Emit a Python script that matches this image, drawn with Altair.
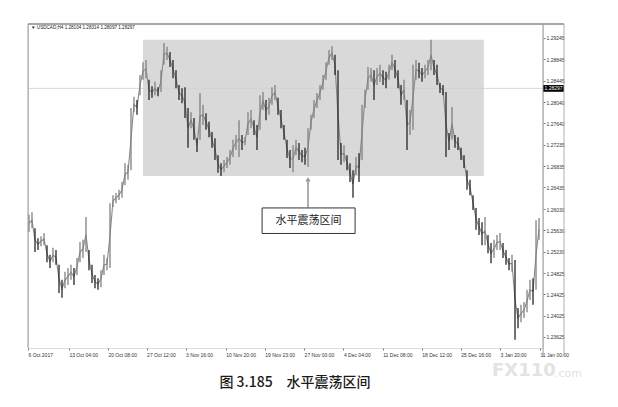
import altair as alt
import pandas as pd

# USDCAD H4 bars (high / low of each bar, left to right)
highs = [
    1.2592, 1.2597, 1.2567, 1.2548, 1.2552, 1.2558, 1.2535, 1.2517, 1.2530, 1.2526,
    1.2498, 1.2470, 1.2485, 1.2492, 1.2498, 1.2492, 1.2511, 1.2541, 1.2545, 1.2588,
    1.2526, 1.2498, 1.2479, 1.2473, 1.2488, 1.2517, 1.2511, 1.2614, 1.2629, 1.2633,
    1.2639, 1.2654, 1.2689, 1.2686, 1.2793, 1.2814, 1.2808, 1.2855, 1.2879, 1.2883,
    1.2846, 1.2834, 1.2842, 1.2832, 1.2864, 1.2915, 1.2908, 1.2898, 1.2883, 1.2864,
    1.2836, 1.2830, 1.2832, 1.2793, 1.2785, 1.2774, 1.2736, 1.2821, 1.2799, 1.2783,
    1.2767, 1.2748, 1.2736, 1.2704, 1.2689, 1.2695, 1.2701, 1.2714, 1.2733, 1.2742,
    1.2770, 1.2742, 1.2738, 1.2785, 1.2789, 1.2770, 1.2761, 1.2817, 1.2823, 1.2808,
    1.2812, 1.2832, 1.2836, 1.2812, 1.2789, 1.2761, 1.2733, 1.2714, 1.2723, 1.2733,
    1.2727, 1.2714, 1.2718, 1.2755, 1.2780, 1.2808, 1.2821, 1.2836, 1.2855, 1.2879,
    1.2902, 1.2909, 1.2893, 1.2864, 1.2727, 1.2723, 1.2704, 1.2689, 1.2676, 1.2701,
    1.2708, 1.2799, 1.2827, 1.2870, 1.2868, 1.2864, 1.2868, 1.2874, 1.2864, 1.2861,
    1.2874, 1.2893, 1.2883, 1.2864, 1.2836, 1.2846, 1.2808, 1.2789, 1.2874, 1.2883,
    1.2878, 1.2868, 1.2874, 1.2883, 1.2921, 1.2883, 1.2874, 1.2840, 1.2836, 1.2823,
    1.2746, 1.2795, 1.2742, 1.2738, 1.2718, 1.2704, 1.2676, 1.2658, 1.2629, 1.2605,
    1.2586, 1.2578, 1.2588, 1.2554, 1.2539, 1.2545, 1.2554, 1.2558, 1.2539, 1.2526,
    1.2511, 1.2517, 1.2507, 1.2417, 1.2423, 1.2428, 1.2451, 1.2470, 1.2473, 1.2582,
    1.2586,
]
lows = [
    1.2560, 1.2567, 1.2522, 1.2526, 1.2533, 1.2535, 1.2503, 1.2492, 1.2503, 1.2498,
    1.2445, 1.2436, 1.2454, 1.2460, 1.2470, 1.2460, 1.2479, 1.2503, 1.2511, 1.2522,
    1.2488, 1.2464, 1.2454, 1.2451, 1.2456, 1.2479, 1.2488, 1.2492, 1.2607, 1.2614,
    1.2620, 1.2624, 1.2648, 1.2658, 1.2676, 1.2785, 1.2780, 1.2817, 1.2846, 1.2849,
    1.2808, 1.2812, 1.2817, 1.2815, 1.2823, 1.2874, 1.2883, 1.2870, 1.2849, 1.2830,
    1.2808, 1.2802, 1.2774, 1.2718, 1.2755, 1.2733, 1.2710, 1.2733, 1.2761, 1.2752,
    1.2738, 1.2718, 1.2695, 1.2671, 1.2665, 1.2672, 1.2680, 1.2686, 1.2701, 1.2714,
    1.2701, 1.2714, 1.2723, 1.2742, 1.2755, 1.2742, 1.2714, 1.2752, 1.2789, 1.2770,
    1.2780, 1.2799, 1.2808, 1.2780, 1.2755, 1.2733, 1.2699, 1.2680, 1.2672, 1.2704,
    1.2695, 1.2691, 1.2686, 1.2682, 1.2752, 1.2774, 1.2793, 1.2808, 1.2827, 1.2846,
    1.2874, 1.2883, 1.2855, 1.2695, 1.2686, 1.2691, 1.2676, 1.2654, 1.2624, 1.2667,
    1.2654, 1.2695, 1.2793, 1.2827, 1.2842, 1.2808, 1.2836, 1.2842, 1.2836, 1.2830,
    1.2846, 1.2864, 1.2849, 1.2830, 1.2799, 1.2808, 1.2714, 1.2742, 1.2752, 1.2846,
    1.2849, 1.2842, 1.2849, 1.2855, 1.2864, 1.2855, 1.2836, 1.2821, 1.2817, 1.2701,
    1.2714, 1.2733, 1.2718, 1.2714, 1.2695, 1.2680, 1.2639, 1.2629, 1.2601, 1.2564,
    1.2554, 1.2535, 1.2535, 1.2520, 1.2501, 1.2511, 1.2526, 1.2526, 1.2511, 1.2498,
    1.2488, 1.2485, 1.2357, 1.2379, 1.2390, 1.2398, 1.2409, 1.2432, 1.2423, 1.2451,
    1.2545,
]

# time axis (bar index of each label) and price axis
time_ticks = [-0.33, 13.3, 26.3, 39.2, 52.2, 65.6, 78.6, 91.7, 104.8, 117.9, 130.9, 143.9, 157, 170.3]
time_labels = ['6 Oct 2017', '13 Oct 04:00', '20 Oct 08:00', '27 Oct 12:00', '3 Nov 16:00',
               '10 Nov 20:00', '19 Nov 23:00', '27 Nov 00:00', '4 Dec 04:00', '11 Dec 08:00',
               '18 Dec 12:00', '25 Dec 16:00', '3 Jan 20:00', '11 Jan 00:00']
price_ticks = [1.29245, 1.28845, 1.28445, 1.28040, 1.27640, 1.27235, 1.26835, 1.26435,
               1.26030, 1.25630, 1.25230, 1.24825, 1.24425, 1.24025, 1.23625]
last_price = 1.28297
header = '▼ USDCAD,H4  1.28104 1.28314 1.28097 1.28297'

# range box + callout
zone = {'start': 38, 'end': 151.6, 'top': 1.2921, 'bottom': 1.2665}
callout = {'bar': 93, 'tip': 1.2659, 'tail': 1.2606,
           'left': 77.7, 'right': 108.7, 'top': 1.2605, 'bottom': 1.2557}
callout_text = '水平震荡区间'
caption = '图 3.185\u3000水平震荡区间'

W, H = 515, 324
FONT = 'Liberation Sans'
CJK = 'Noto Sans CJK SC'

bars = pd.DataFrame({'bar': range(len(highs)), 'high': highs, 'low': lows})
bars['mid'] = (bars['high'] + bars['low']) / 2
bars['down'] = bars['mid'] < bars['mid'].shift(1)

xs = alt.Scale(domain=[-0.33, 171.33], nice=False, zero=False)
ys = alt.Scale(domain=[1.23417, 1.29508], nice=False, zero=False)

lookup = str(time_labels) + '[indexof(' + str(time_ticks) + ', datum.value)]'
x_axis = alt.Axis(values=time_ticks, labelExpr=lookup, labelAlign='left', labelFontSize=5,
                  labelColor='#333', labelFont=FONT, tickSize=2, tickColor='#777',
                  domain=False, grid=False, labelPadding=2, labelOverlap=False, title=None)
y_axis = alt.Axis(orient='right', values=price_ticks, format='.5f', labelFontSize=5,
                  labelColor='#333', labelFont=FONT, tickSize=2, tickColor='#777',
                  domain=False, grid=False, labelPadding=1, labelOverlap=False, title=None)


def X(field):
    return alt.X(field, type='quantitative', scale=xs, axis=x_axis)


def Y(field):
    return alt.Y(field, type='quantitative', scale=ys, axis=y_axis)


one = pd.DataFrame({'k': [0]})

shade = alt.Chart(pd.DataFrame([zone])).mark_rect(color='#d9d9d9').encode(
    x=X('start'), x2='end', y=Y('top'), y2='bottom'
)

price_line = alt.Chart(pd.DataFrame({'p': [last_price]})).mark_rule(
    color='#cfcfcf', strokeWidth=0.8
).encode(y=Y('p'), x=alt.value(0), x2=alt.value(W))

# thin path through the bars so the dense H4 series reads as one jagged band
path = alt.Chart(bars).mark_line(color='#888888', strokeWidth=1.1).encode(
    x=X('bar'), y=Y('mid')
)

candles = alt.Chart(bars).mark_rule(strokeWidth=1.3).encode(
    x=X('bar'),
    y=Y('high'),
    y2='low',
    color=alt.condition('datum.down', alt.value('#262626'), alt.value('#808080')),
)

cdf = pd.DataFrame([callout])
shaft = alt.Chart(cdf).mark_rule(color='#9a9a9a', strokeWidth=1.6).encode(
    x=X('bar'), y=Y('tip'), y2='tail'
)
head = alt.Chart(cdf).mark_point(
    shape='triangle-up', filled=True, color='#9a9a9a', size=28, opacity=1
).encode(x=X('bar'), y=Y('tip'))
box = alt.Chart(cdf).mark_rect(fill='white', stroke='#333', strokeWidth=1).encode(
    x=X('left'), x2='right', y=Y('top'), y2='bottom'
)
box_text = alt.Chart(pd.DataFrame({'t': [callout_text], 'bar': [93.2], 'p': [1.2581]})).mark_text(
    font=CJK, fontSize=11, color='#222'
).encode(x=X('bar'), y=Y('p'), text='t:N')

# last-price tag on the price axis
tag = alt.Chart(pd.DataFrame({'p': [last_price]})).mark_point(
    shape='M-1,-0.32H1V0.32H-1Z', filled=True, color='black', size=441, opacity=1
).encode(y=Y('p'), x=alt.value(W + 10.5))
tag_text = alt.Chart(pd.DataFrame({'p': [last_price]})).mark_text(
    font=FONT, fontSize=5, color='white', align='center', baseline='middle'
).encode(y=Y('p'), x=alt.value(W + 10.5), text=alt.Text('p:Q', format='.5f'))

# window frame
frame_top = alt.Chart(one).mark_rule(color='#a8a8a8', strokeWidth=2).encode(
    x=alt.value(0), x2=alt.value(W + 21), y=alt.value(0)
)
frame_left = alt.Chart(one).mark_rule(color='#9a9a9a', strokeWidth=1).encode(
    x=alt.value(0), y=alt.value(0), y2=alt.value(H)
)
frame_axis = alt.Chart(one).mark_rule(color='#9a9a9a', strokeWidth=1).encode(
    x=alt.value(W), y=alt.value(0), y2=alt.value(H + 9)
)
frame_right = alt.Chart(one).mark_rule(color='#b0b0b0', strokeWidth=1).encode(
    x=alt.value(W + 21), y=alt.value(0), y2=alt.value(H + 9)
)

head_text = alt.Chart(pd.DataFrame({'t': [header]})).mark_text(
    font=FONT, fontSize=4.6, color='#222', align='left', baseline='middle'
).encode(x=alt.value(3), y=alt.value(4), text='t:N')

cap = alt.Chart(pd.DataFrame({'t': [caption]})).mark_text(
    font=CJK, fontSize=14, fontWeight=500, color='#1a1a1a', align='center', baseline='middle'
).encode(x=alt.value(267), y=alt.value(359), text='t:N')

mark1 = alt.Chart(pd.DataFrame({'t': ['FX110']})).mark_text(
    font='DejaVu Sans', fontSize=18, fontWeight='bold', color='#e3e3e3', align='left', baseline='middle'
).encode(x=alt.value(464), y=alt.value(347), text='t:N')
mark2 = alt.Chart(pd.DataFrame({'t': ['.com']})).mark_text(
    font='DejaVu Sans', fontSize=11, color='#e3e3e3', align='left', baseline='middle'
).encode(x=alt.value(527), y=alt.value(350), text='t:N')

chart = alt.layer(
    shade, price_line, path, candles, shaft, head, box, box_text, tag, tag_text,
    frame_top, frame_left, frame_axis, frame_right, head_text, cap, mark1, mark2
).properties(
    width=W, height=H,
    autosize='none',
    padding={'left': 20, 'top': 16, 'right': 62, 'bottom': 50},
).configure_view(stroke=None).configure(background='white')

chart.save('out.html', embed_options={'renderer': 'svg', 'actions': False})
